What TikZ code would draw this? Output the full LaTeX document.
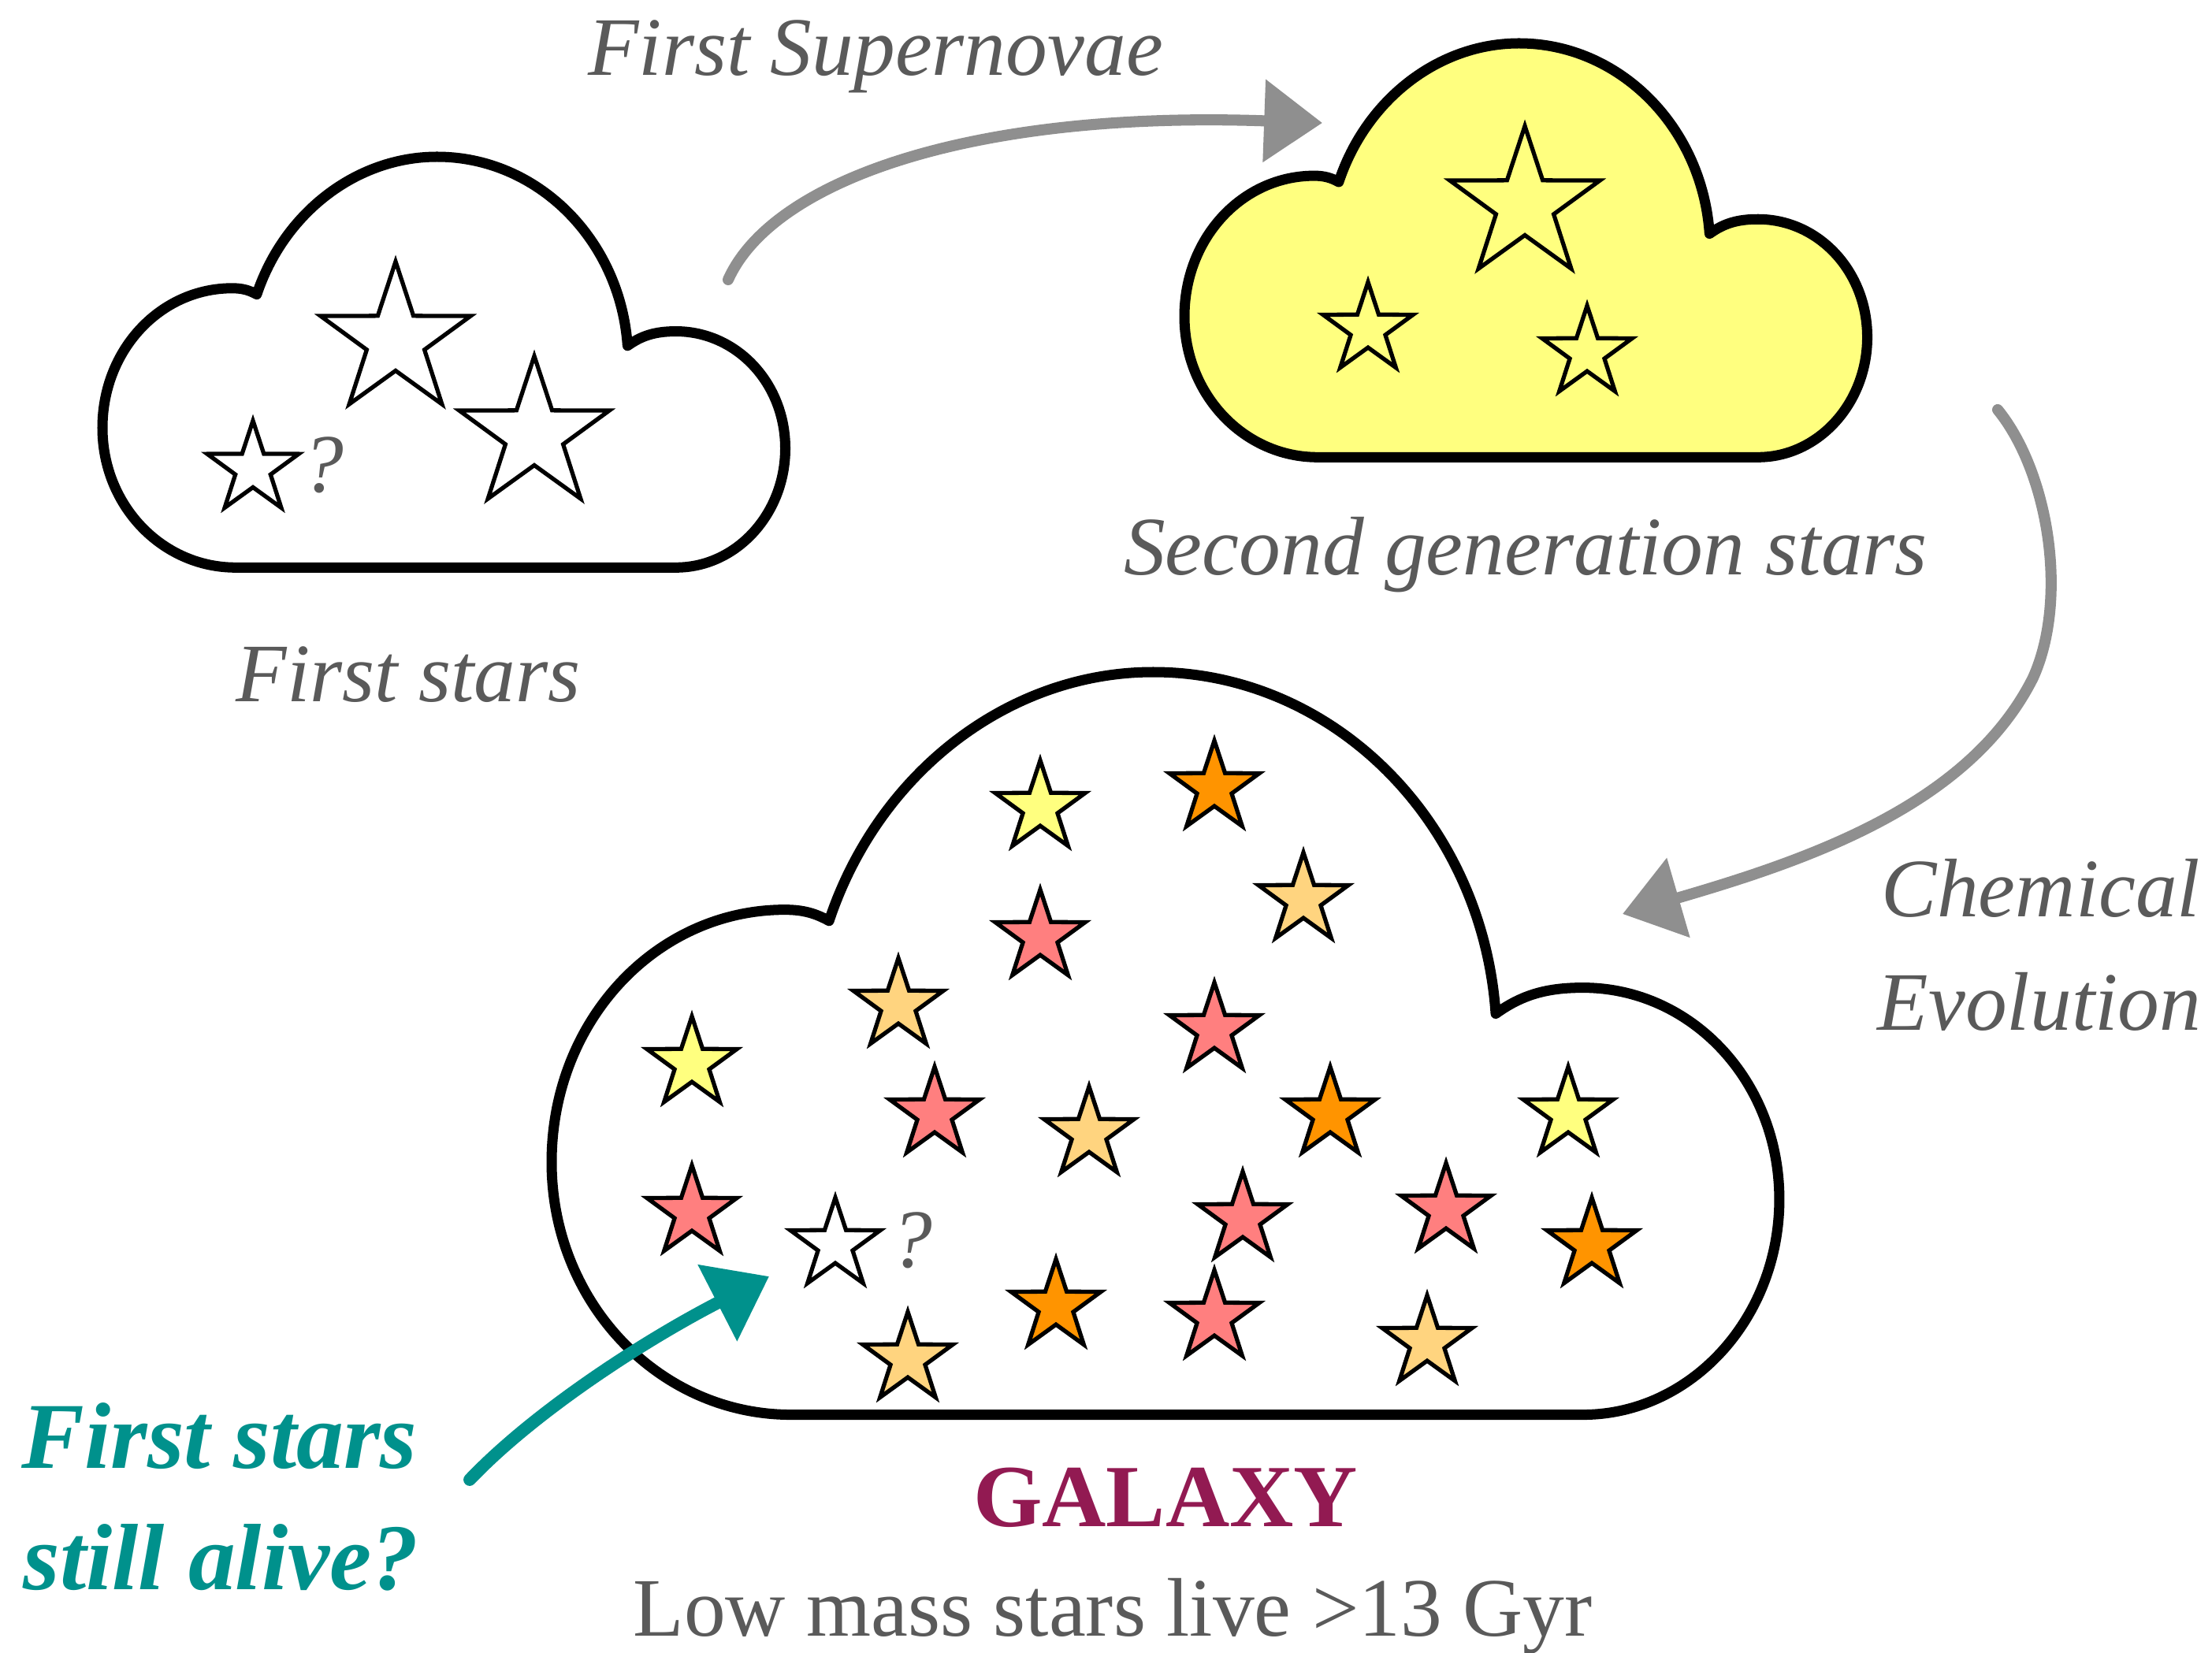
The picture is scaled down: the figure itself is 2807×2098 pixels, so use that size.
\documentclass[tikz,border=0pt]{standalone}
\usepackage{fontspec}
\setmainfont{Liberation Serif}
\usepackage{xcolor}
\usepackage{tikz}
\usetikzlibrary{arrows.meta,shapes.geometric}
\definecolor{starYellow}{HTML}{FFFF7F}
\definecolor{starOrange}{HTML}{FF9400}
\definecolor{starPeach}{HTML}{FFD47F}
\definecolor{starRed}{HTML}{FF7F7F}
\definecolor{arrowGray}{HTML}{8F8F8F}
\definecolor{labelGray}{HTML}{5A5A5A}
\definecolor{aliveTeal}{HTML}{00918C}
\definecolor{galaxyRed}{HTML}{921A52}

\begin{document}
\begin{tikzpicture}[x=0.01cm, y=-0.01cm,
        cloudline/.style={draw=black, line width=3.7pt, line join=round},
        cloudpic/.pic={
            \draw[pic actions] (0.195,1) -- (0.84,1) .. controls (0.928,1) and (1,0.87) .. (1,0.71)
                .. controls (1,0.55) and (0.928,0.425) .. (0.84,0.425) .. controls (0.81,0.425) and (0.79,0.435) .. (0.769,0.46)
                .. controls (0.758,0.20) and (0.636,0) .. (0.49,0) .. controls (0.372,0) and (0.266,0.136) .. (0.226,0.335)
                .. controls (0.215,0.325) and (0.205,0.32) .. (0.19,0.32) .. controls (0.085,0.32) and (0,0.47) .. (0,0.66)
                .. controls (0,0.848) and (0.087,1) .. (0.195,1) -- cycle;
        },
        starnode/.style={star, star points=5, star point ratio=2.6, draw=black, line width=1.5pt, inner sep=0pt, minimum size=1.2cm},
        bigstar/.style={starnode, minimum size=2cm},
        label/.style={text=labelGray, font=\fontsize{30}{36}\selectfont\itshape, inner sep=0pt},
        qmark/.style={text=labelGray, font=\fontsize{30}{36}\selectfont\itshape, inner sep=0pt},
        alive/.style={text=aliveTeal, font=\fontsize{34}{40}\selectfont\bfseries\itshape, inner sep=0pt, anchor=base west},
        grayarrow/.style={draw=arrowGray, line width=4pt, line cap=round, -{Triangle[length=21pt, width=29pt]}},
        tealarrow/.style={draw=aliveTeal, line width=4.5pt, line cap=round, -{Triangle[length=21pt, width=30pt]}}
    ]
        \fill[white] (0,0) rectangle (2807,2098);
        \useasboundingbox (0,0) rectangle (2807,2098);

        \begin{scope}[shift={(130,199)}, x=8.66cm, y=-5.21cm]
            \pic[cloudline, fill=white] {cloudpic};
        \end{scope}
        \begin{scope}[shift={(1503,55)}, x=8.66cm, y=-5.25cm]
            \pic[cloudline, fill=starYellow] {cloudpic};
        \end{scope}
        \begin{scope}[shift={(700,853)}, x=15.57cm, y=-9.42cm]
            \pic[cloudline, fill=white] {cloudpic};
        \end{scope}

        \node[bigstar, fill=white] (first a) at (502,432) {};
        \node[bigstar, fill=white] (first b) at (678,552) {};
        \node[starnode, fill=white, minimum size=1.22cm] (first c) at (321,595) {};
        \node[qmark] (first q) at (410,590) {?};

        \node[bigstar, fill=starYellow] (second a) at (1935,260) {};
        \node[starnode, fill=starYellow] (second b) at (1736,418) {};
        \node[starnode, fill=starYellow] (second c) at (2014,448) {};

        \node[starnode, fill=starYellow] (g1) at (1320,1025) {};
        \node[starnode, fill=starOrange] (g2) at (1541,1000) {};
        \node[starnode, fill=starPeach] (g3) at (1654,1142) {};
        \node[starnode, fill=starRed] (g4) at (1320,1189) {};
        \node[starnode, fill=starPeach] (g5) at (1140,1276) {};
        \node[starnode, fill=starRed] (g6) at (1541,1307) {};
        \node[starnode, fill=starYellow] (g7) at (878,1350) {};
        \node[starnode, fill=starRed] (g8) at (1186,1414) {};
        \node[starnode, fill=starPeach] (g9) at (1382,1439) {};
        \node[starnode, fill=starOrange] (g10) at (1688,1414) {};
        \node[starnode, fill=starYellow] (g11) at (1990,1414) {};
        \node[starnode, fill=starRed] (g12) at (878,1539) {};
        \node[starnode, fill=white] (g13) at (1060,1580) {};
        \node[qmark] (g q) at (1157,1574) {?};
        \node[starnode, fill=starRed] (g14) at (1577,1547) {};
        \node[starnode, fill=starRed] (g15) at (1835,1536) {};
        \node[starnode, fill=starOrange] (g16) at (2020,1580) {};
        \node[starnode, fill=starPeach] (g17) at (1152,1725) {};
        \node[starnode, fill=starOrange] (g18) at (1340,1658) {};
        \node[starnode, fill=starRed] (g19) at (1541,1672) {};
        \node[starnode, fill=starPeach] (g20) at (1811,1704) {};

        \node[label, anchor=base] (supernovae) at (1111,96) {First Supernovae};
        \node[label, anchor=base] (firstlabel) at (518,890) {First stars};
        \node[label, anchor=base] (secondlabel) at (1936,730) {Second generation stars};
        \node[label, anchor=base] (chemical) at (2590,1163) {Chemical};
        \node[label, anchor=base] (evolution) at (2588,1307) {Evolution};
        \node[anchor=base, text=galaxyRed, font=\fontsize{32}{38}\selectfont\bfseries, inner sep=0pt] (galaxy) at (1479,1937) {GALAXY};
        \node[anchor=base, text=labelGray, font=\fontsize{30}{36}\selectfont, inner sep=0pt] (lowmass) at (1412,2076) {Low mass stars live >13 Gyr};
        \node[alive] (alive one) at (27,1863) {First stars};
        \node[alive] (alive two) at (29,2017) {still alive?};

        \coordinate (sn start) at (924,355);
        \coordinate (sn end) at (1678,156);
        \coordinate (ce start) at (2535,520);
        \coordinate (ce end) at (2059,1160);
        \coordinate (fs start) at (596,1878);
        \coordinate (fs end) at (976,1620);

        \draw[grayarrow] (sn start) .. controls (980,230) and (1230,140) .. (sn end);
        \draw[grayarrow] (ce start) .. controls (2600,600) and (2625,760) .. (2580,860) .. controls (2500,1020) and (2300,1090) .. (ce end);
        \draw[tealarrow] (fs start) .. controls (680,1790) and (820,1700) .. (fs end);
    \end{tikzpicture}
\end{document}
